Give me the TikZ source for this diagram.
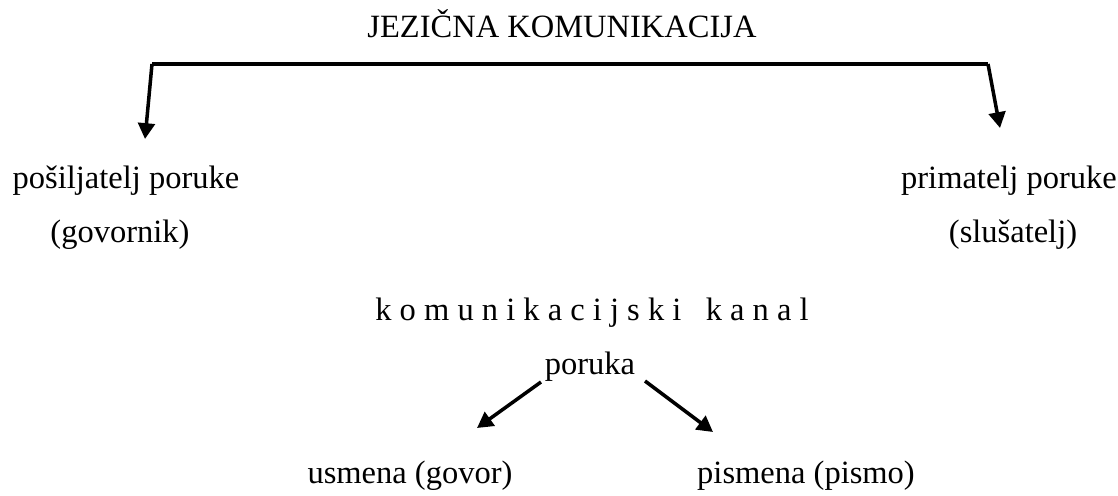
\documentclass[tikz,border=0pt]{standalone}
\usepackage{fontspec}
\setmainfont{Liberation Serif}
\newfontfamily\timesfont{Liberation Serif}
\usetikzlibrary{arrows.meta, positioning}

\begin{document}
\begin{tikzpicture}[x=0.02cm, y=-0.02cm,
    every node/.style={font=\timesfont\fontsize{18.5}{22}\selectfont, anchor=base, inner sep=1pt},
    bar/.style={line width=2.3pt},
    arr/.style={line width=2pt, -{Triangle[length=9pt, width=9.5pt]}}]
  \useasboundingbox (0,0) rectangle (1118,496);
  % Title and bracket
  \node (title) at (562,38) {JEZIČNA KOMUNIKACIJA};
  \coordinate (barL) at (152,64);
  \coordinate (barR) at (988,64);
  \coordinate (tipL) at (145,139);
  \coordinate (tipR) at (1000,128);
  \draw[bar] (barL) -- (barR);
  \draw[arr] (barL) -- (tipL);
  \draw[arr] (barR) -- (tipR);
  % Sender and receiver
  \node (sender)   at (126,189)  {pošiljatelj poruke};
  \node (speaker)  at (120,243)  {(govornik)};
  \node (receiver) at (1009,189) {primatelj poruke};
  \node (listener) at (1013,243) {(slušatelj)};
  % Channel and message
  \node (channel) at (592,320) {k o m u n i k a c i j s k i\ \ \ k a n a l};
  \node (message) at (590,374) {poruka};
  \coordinate (fromL) at (541,382);
  \coordinate (fromR) at (645,381);
  \coordinate (toL) at (477,428);
  \coordinate (toR) at (713,432);
  \draw[arr] (fromL) -- (toL);
  \draw[arr] (fromR) -- (toR);
  \node (oral)    at (410,483) {usmena (govor)};
  \node (written) at (806,483) {pismena (pismo)};
\end{tikzpicture}
\end{document}
